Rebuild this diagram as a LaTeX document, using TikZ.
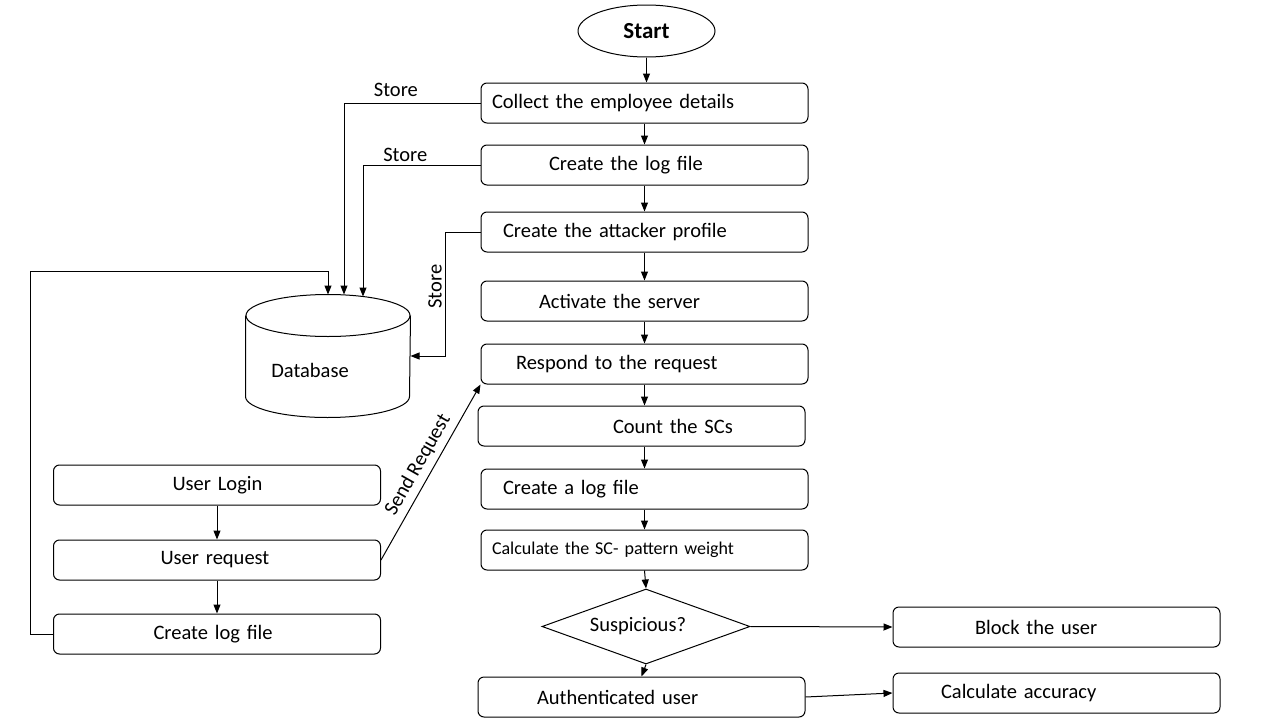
\documentclass[tikz,border=0pt]{standalone}
\usepackage{fontspec}
\setmainfont{Carlito}
\usetikzlibrary{shapes.geometric, arrows.meta}

\begin{document}
\begin{tikzpicture}[x=1pt,y=-1pt,line width=1pt,>={Triangle[length=9pt,width=7pt]},
every node/.style={font=\fontsize{20.5}{24}\selectfont},
box/.style={draw,rounded corners=6pt,minimum width=327pt,minimum height=40pt,text width=327pt,inner xsep=0pt,align=left},
%scale=0.5, transform shape
]
\useasboundingbox (0,0) rectangle (1280,720);

\node [ellipse,draw,minimum width=137pt,minimum height=52pt,inner sep=0pt,font=\bfseries\fontsize{23}{26}\selectfont] (start) at (646.5,31) {Start};
\node [box] (collect) at (644.5,103) {\hspace*{11pt}Collect the employee details};
\node [box] (logfile) at (644.5,165) {\hspace*{68pt}Create the log file};
\node [box] (attacker) at (644.5,232) {\hspace*{22pt}Create the attacker profile};
\node [box] (server) at (644.5,301) {\hspace*{58pt}Activate the server};
\node [box] (respond) at (644.5,364) {\hspace*{35pt}Respond to the request};
\node [box] (count) at (641.5,426) {\hspace*{135pt}Count the SCs};
\node [box] (alog) at (644.5,489) {\hspace*{22pt}Create a log file};
\node [box,font=\fontsize{18}{22}\selectfont] (weight) at (644.5,550) {\hspace*{11pt}Calculate the SC- pattern weight};
\node [diamond,draw,aspect=2.8,minimum width=208pt,minimum height=75pt,inner sep=0pt] (susp) at (646,626.5) {\hspace*{-16pt}Suspicious?};
\node [box] (auth) at (641.5,697) {\hspace*{59pt}Authenticated user};
\node [box] (block) at (1056.5,627) {\hspace*{82pt}Block the user};
\node [box] (acc) at (1056.5,693) {\hspace*{48pt}Calculate accuracy};

\node [box] (login) at (217,485) {\hspace*{119pt}User Login};
\node [box] (request) at (217,560) {\hspace*{107pt}User request};
\node [box] (ulog) at (217,634) {\hspace*{100pt}Create log file};

\node [minimum width=164pt,minimum height=122pt,inner sep=0pt] (db) at (328,356) {\hspace*{-36pt}\raisebox{-21pt}[0pt][0pt]{Database}};
\draw ([yshift=-21pt]db.north) ellipse [x radius=82pt,y radius=21pt];
\draw ([yshift=-21pt]db.north west) -- ([yshift=21pt]db.south west) arc [start angle=180,end angle=360,x radius=82pt,y radius=21pt] -- ([yshift=-21pt]db.north east);

\draw[->] (start.south) -- (start.south |- collect.north);
\draw[->] (collect) -- (logfile);
\draw[->] (logfile) -- (attacker);
\draw[->] (attacker) -- (server);
\draw[->] (server) -- (respond);
\draw[->] (respond.south) -- (respond.south |- count.north);
\draw[->] (count.south -| alog.north) -- (alog.north);
\draw[->] (alog) -- (weight);
\draw[->] (weight.south) -- (susp.north);
\draw[->] (susp.south) -- (auth.north);
\draw[->] (susp.east) -- (block.west);
\draw[->] (auth.east) -- (acc.west);

\draw[->] (login) -- (request);
\draw[->] (request) -- (ulog);
\draw[->] (request.east) -- node[sloped,above=2pt]{Send Request} (respond.south west);

\draw[->] (collect.west) -| node[pos=0.31,above=3pt]{Store} ([xshift=16pt]db.north);
\draw[->] (logfile.west) -| node[pos=0.32,above]{Store} ([xshift=35pt,yshift=-2pt]db.north);
\draw[->] (attacker.west) -- ++(-35,0) |- node[pos=0.22,rotate=90,anchor=south]{Store} (db.east);
\draw[->] (ulog.west) -- ++(-23,0) -- ++(0,-363) -| (db.north);

\end{tikzpicture}
\end{document}
